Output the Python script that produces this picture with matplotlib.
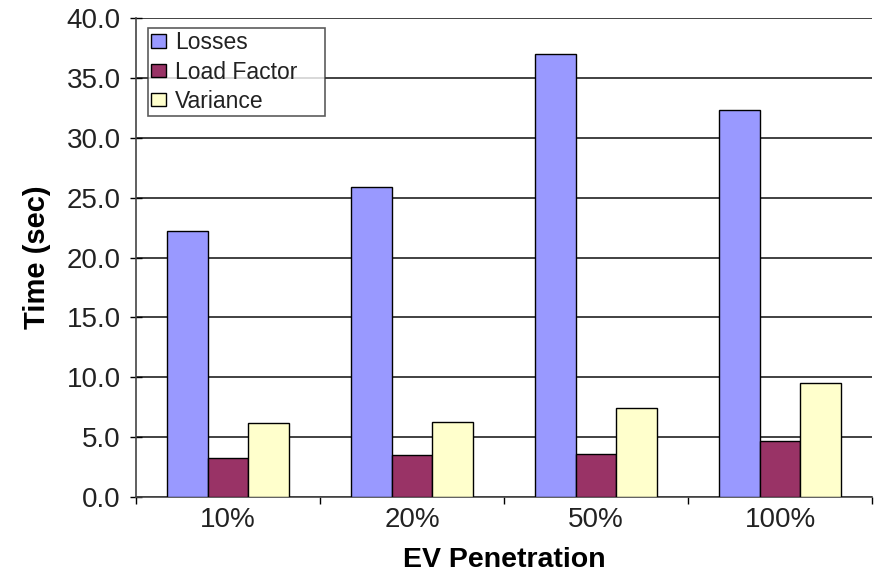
import matplotlib
matplotlib.use("Agg")
import matplotlib.pyplot as plt
import numpy as np

categories = ["10%", "20%", "50%", "100%"]
losses = [22.2, 25.9, 37.0, 32.3]
load_factor = [3.3, 3.5, 3.6, 4.7]
variance = [6.2, 6.3, 7.4, 9.5]
yticks = [0, 5, 10, 15, 20, 25, 30, 35, 40]

plt.rcParams['font.family'] = ['Liberation Sans', 'DejaVu Sans']

fig = plt.figure(figsize=(8.74, 5.73), dpi=100)
ax = fig.add_axes([0.1556, 0.1326, 0.8424, 0.836])

x = np.arange(len(categories))
w = 0.22
series = [(losses, "Losses", "#9999FF"),
          (load_factor, "Load Factor", "#993366"),
          (variance, "Variance", "#FFFFCC")]
for i, (vals, lab, col) in enumerate(series):
    ax.bar(x + (i - 1) * w, vals, w, color=col, edgecolor="black",
           linewidth=1.0, label=lab, zorder=3)

ax.set_xlim(-0.5, len(categories) - 0.5)
ax.set_ylim(0, 40)
ax.set_yticks(yticks)
ax.set_yticklabels([f"{v:.1f}" for v in yticks])
ax.yaxis.grid(True, color="#333333", linewidth=1.3, zorder=0)
ax.set_axisbelow(True)

ax.set_xticks(x)
ax.set_xticklabels(categories)
ax.set_xticks(np.arange(-0.5, len(categories)), minor=True)
ax.tick_params(axis="x", which="major", length=0, labelsize=20, pad=7, labelcolor="#222222")
ax.tick_params(axis="x", which="minor", length=5, direction="out", width=1)
ax.tick_params(axis="y", length=8, direction="inout", width=1, labelsize=20, pad=7,
               labelcolor="#222222")

for s in ["top", "right"]:
    ax.spines[s].set_visible(False)
ax.spines["left"].set_color("#444444")
ax.spines["bottom"].set_color("#444444")
ax.spines["left"].set_linewidth(1.2)
ax.spines["bottom"].set_linewidth(1.2)

ax.set_xlabel("EV Penetration", fontsize=20.5, fontweight="bold", labelpad=10)
ax.set_ylabel("Time (sec)", fontsize=21, fontweight="bold", labelpad=11)

leg = ax.legend(loc="upper left", bbox_to_anchor=(0.0163, 0.5, 0.2405, 0.4798),
                mode="expand", fontsize=16.5,
                frameon=True, fancybox=False, edgecolor="#333333",
                handlelength=0.65, handleheight=0.5, handletextpad=0.38,
                borderpad=0.15, labelspacing=0.28, borderaxespad=0)
leg.get_frame().set_linewidth(1.2)
for t in leg.get_texts():
    t.set_color("#222222")

fig.savefig("out.png", dpi=100)
